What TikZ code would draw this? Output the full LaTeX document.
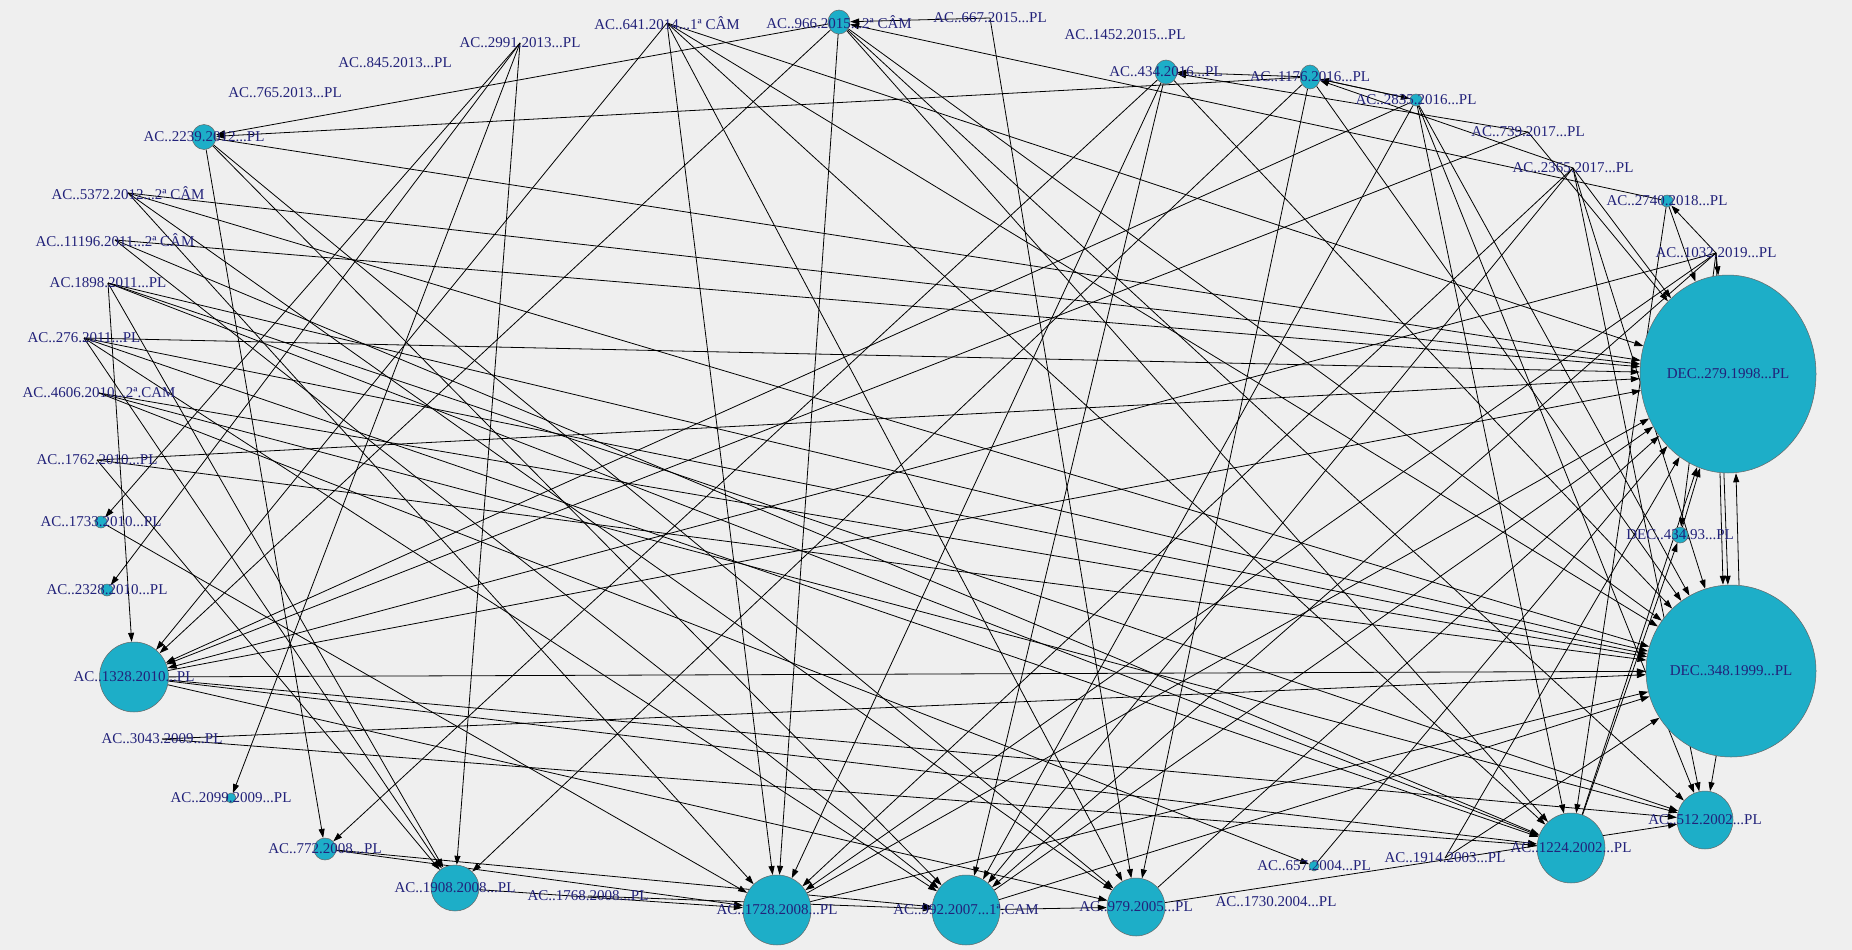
\documentclass[tikz,border=0pt]{standalone}
\usepackage{fontspec}
\setmainfont{Liberation Serif}
\usetikzlibrary{arrows.meta, shapes.geometric}
\definecolor{vertexTeal}{HTML}{1DAEC8}
\definecolor{labelNavy}{HTML}{22227A}
\definecolor{paperGray}{HTML}{EFEFEF}
\pgfdeclarelayer{back}
\pgfdeclarelayer{edges}
\pgfsetlayers{back,edges,main}

\begin{document}
\begin{tikzpicture}[
    x=1pt, y=-1pt,
    vtx/.style={ellipse, draw=black!60, fill=vertexTeal, inner sep=0pt, line width=0.5pt},
    lbl/.style={text=labelNavy, font=\fontsize{15}{17}\selectfont, inner sep=0pt},
    arr/.style={-{Triangle[length=9pt,width=6pt]}, line width=0.8pt, black},
  ]
    \useasboundingbox (0,0) rectangle (1852,950);
    \begin{pgfonlayer}{back}
      \fill[paperGray] (0,0) rectangle (1852,950);
    \end{pgfonlayer}

    % cited decisions, size by in-degree
    \foreach \n/\x/\y/\w/\h in {d279/1728/374/176/198, d348/1731/671/170/172, d434/1680/535/16/16,
        n1328/134/677/69/70, n1728/777/910/68/70, n992/966/910/68/70, n979/1136/907/58/58,
        n1224/1571/848/68/70, n512/1705/820/56/58, n1908/455/888/48/46, n772/325/849/22/22,
        n2239/204/137/24/25, n966/839/22/22/24, n434/1166/72/22/24, n1176/1310/77/20/24,
        n2835/1416/100/12/12, n2740/1667/201/12/12, n1733/101/522/12/12, n2328/107/590/12/12,
        n2099/231/798/10/10, n657/1314/866/10/10} {
      \node[vtx, minimum width=\w pt, minimum height=\h pt] (\n) at (\x,\y) {};
    }

    % citing only
    \foreach \n/\x/\y in {n2991/520/43, n845/395/63, n765/285/93, n5372/128/193, n11196/115/240,
        n1898/108/283, n276/84/338, n4606/99/393, n1762/97/460, n3043/162/739, n1768/588/896,
        n1730/1276/902, n1914/1445/858, n1032/1716/253, n2365/1573/168, n739/1528/132,
        n1452/1125/35, n667/990/18, n641/667/23}
      \coordinate (\n) at (\x,\y);

    % labels
    \node[lbl] (ln2991) at (n2991) {AC..2991.2013...PL};
    \node[lbl] (ln845) at (n845) {AC..845.2013...PL};
    \node[lbl] (ln765) at (n765) {AC..765.2013...PL};
    \node[lbl] (ln2239) at (n2239) {AC..2239.2012...PL};
    \node[lbl] (ln5372) at (n5372) {AC..5372.2012...2ª CÂM};
    \node[lbl] (ln11196) at (n11196) {AC..11196.2011...2ª CÂM};
    \node[lbl] (ln1898) at (n1898) {AC.1898.2011...PL};
    \node[lbl] (ln276) at (n276) {AC..276.2011...PL};
    \node[lbl] (ln4606) at (n4606) {AC..4606.2010...2ª.CAM};
    \node[lbl] (ln1762) at (n1762) {AC..1762.2010...PL};
    \node[lbl] (ln1733) at (n1733) {AC..1733.2010...PL};
    \node[lbl] (ln2328) at (n2328) {AC..2328.2010...PL};
    \node[lbl] (ln1328) at (n1328) {AC..1328.2010...PL};
    \node[lbl] (ln3043) at (n3043) {AC..3043.2009...PL};
    \node[lbl] (ln2099) at (n2099) {AC..2099.2009...PL};
    \node[lbl] (ln772) at (n772) {AC..772.2008...PL};
    \node[lbl] (ln1908) at (n1908) {AC..1908.2008...PL};
    \node[lbl] (ln1768) at (n1768) {AC..1768.2008...PL};
    \node[lbl] (ln1728) at (n1728) {AC..1728.2008...PL};
    \node[lbl] (ln992) at (n992) {AC..992.2007...1ª.CAM};
    \node[lbl] (ln979) at (n979) {AC..979.2005...PL};
    \node[lbl] (ln657) at (n657) {AC..657.2004...PL};
    \node[lbl] (ln1730) at (n1730) {AC..1730.2004...PL};
    \node[lbl] (ln1914) at (n1914) {AC..1914.2003...PL};
    \node[lbl] (ln1224) at (n1224) {AC..1224.2002...PL};
    \node[lbl] (ln512) at (n512) {AC..512.2002...PL};
    \node[lbl] (ld348) at (d348) {DEC..348.1999...PL};
    \node[lbl] (ld434) at (d434) {DEC..434.93...PL};
    \node[lbl] (ld279) at (d279) {DEC..279.1998...PL};
    \node[lbl] (ln1032) at (n1032) {AC..1032.2019...PL};
    \node[lbl] (ln2740) at (n2740) {AC..2740.2018...PL};
    \node[lbl] (ln2365) at (n2365) {AC..2365.2017...PL};
    \node[lbl] (ln739) at (n739) {AC..739.2017...PL};
    \node[lbl] (ln2835) at (n2835) {AC..2835.2016...PL};
    \node[lbl] (ln1176) at (n1176) {AC..1176.2016...PL};
    \node[lbl] (ln434) at (n434) {AC..434.2016...PL};
    \node[lbl] (ln1452) at (n1452) {AC..1452.2015...PL};
    \node[lbl] (ln667) at (n667) {AC..667.2015...PL};
    \node[lbl] (ln966) at (n966) {AC..966.2015...2ª CÂM};
    \node[lbl] (ln641) at (n641) {AC..641.2014...1ª CÂM};

    % citations
    \begin{pgfonlayer}{edges}
    \foreach \s/\t in {n2991/n1733, n2991/n2328, n2991/n2099, n2991/n1908,
        n641/d348, n641/n1328, n641/n1728, n641/n1224, n641/n979, n641/d279,
        n966/d348, n966/n1328, n966/n1728, n966/n1224, n966/n2239, n966/n512,
        n667/n979, n667/n966,
        n1176/d348, n1176/n979, n1176/n1908, n1176/n2239, n1176/n434, n1176/n2835,
        n434/d348, n434/n992, n434/n772, n434/n1728,
        n2835/n1328, n2835/n1224, n2835/n1176, n2835/n512, n2835/n992, n2835/d348,
        n739/d279, n739/n1328, n739/n434,
        n2365/d279, n2365/d348, n2365/n1728, n2365/n512, n2365/n1176, n2365/n992,
        n2740/n1224, n2740/n966, n2740/d279,
        n1032/d279, n1032/d348, n1032/n1328, n1032/n1728, n1032/n2740, n1032/d434, n1032/n992,
        n5372/d279, n5372/d348, n5372/n979, n5372/n1728,
        n11196/d279, n11196/n992, n11196/n1224,
        n1898/d348, n1898/n1328, n1898/n1224, n1898/n1908, n1898/n512,
        n276/d279, n276/d348, n276/n992, n276/n1224, n276/n1908,
        n4606/n512, n4606/n657, n4606/d348,
        n1762/d348, n1762/n1908, n1762/d279, n1733/n1728,
        n3043/d348, n3043/n1224,
        n1328/d279, n1328/d348, n1328/n979, n1328/n1224, n1328/n512,
        n2239/d279, n2239/n992, n2239/n772, n2239/n979,
        n772/n1728, n772/n992,
        n1908/n1728, n1768/n992,
        n1728/d279, n1728/d348,
        n992/d279, n992/d348, n992/n979,
        n979/d279, n979/n512, n657/d279, n1914/d279, n1914/d348,
        n1224/d279, n1224/d434,
        d434/d279, d348/n512}
      \draw[arr] (\s) -- (\t);
    \draw[arr] ([xshift=-8pt]d279.south) -- ([xshift=-8pt]d348.north);
    \draw[arr] ([xshift=8pt]d348.north) -- ([xshift=8pt]d279.south);
    \end{pgfonlayer}
  \end{tikzpicture}
\end{document}
